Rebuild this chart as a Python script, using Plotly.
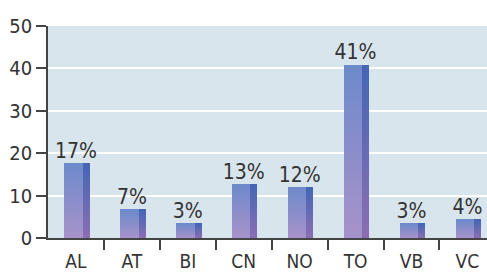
import plotly.graph_objects as go

categories = ["AL", "AT", "BI", "CN", "NO", "TO", "VB", "VC"]
values = [17.6, 6.7, 3.5, 12.7, 12.0, 40.9, 3.5, 4.4]
labels = ["17%", "7%", "3%", "13%", "12%", "41%", "3%", "4%"]
y_ticks = [0, 10, 20, 30, 40, 50]

FONT = "DejaVu Sans Condensed, Liberation Sans Narrow, sans-serif"
N = 24  # gradient steps per bar


def lerp(c1, c2, t):
    return "rgb(%d,%d,%d)" % tuple(round(a + (b - a) * t) for a, b in zip(c1, c2))


front_top, front_bot = (110, 138, 202), (166, 146, 202)
side_top, side_bot = (70, 102, 180), (138, 110, 180)

xs, bases, ys, cf, cs = [], [], [], [], []
for i, (c, v) in enumerate(zip(categories, values)):
    for k in range(N):
        t = k / (N - 1)  # 0 at bottom, 1 at top
        xs.append(i)
        bases.append(v * k / N)
        ys.append(v / N * 1.02 if k < N - 1 else v / N)
        cf.append(lerp(front_bot, front_top, t))
        cs.append(lerp(side_bot, side_top, t))

fig = go.Figure()
fig.add_trace(go.Bar(x=xs, y=ys, base=bases, width=0.33, offset=-0.21,
                     marker=dict(color=cf, line=dict(width=0)), hoverinfo="skip"))
fig.add_trace(go.Bar(x=xs, y=ys, base=bases, width=0.125, offset=0.12,
                     marker=dict(color=cs, line=dict(width=0)), hoverinfo="skip"))
fig.add_trace(go.Scatter(x=list(range(len(categories))), y=values, mode="text",
                         text=labels, textposition="top center",
                         textfont=dict(family=FONT, size=21, color="#333333"),
                         cliponaxis=False, hoverinfo="skip"))

fig.update_layout(
    width=487, height=273,
    margin=dict(l=48, r=0, t=26, b=35),
    paper_bgcolor="white", plot_bgcolor="#d9e5ed",
    barmode="overlay", bargap=0, showlegend=False,
    font=dict(family=FONT, size=20, color="#333333"),
)
fig.update_xaxes(
    type="linear", range=[-0.5, 7.35], automargin=False,
    tickmode="array", tickvals=list(range(len(categories))), ticktext=categories,
    ticks="", ticklabelstandoff=5, tickfont=dict(size=19),
    showgrid=False, zeroline=False,
    showline=True, linecolor="#444444", linewidth=1.5,
)
# boundary ticks between categories
fig.update_xaxes(minor=dict(tickmode="array", tickvals=[i + 0.5 for i in range(len(categories) - 1)],
                            ticks="outside", ticklen=10, tickcolor="#444444", tickwidth=1.5,
                            showgrid=False))
fig.update_yaxes(
    range=[0, 50], tickmode="array", tickvals=y_ticks, automargin=False,
    ticks="outside", ticklen=10, tickcolor="#444444", tickwidth=1.5,
    showgrid=True, gridcolor="white", gridwidth=2, zeroline=False,
    showline=True, linecolor="#444444", linewidth=1.5,
)

fig.write_html("out.html", config={"displayModeBar": False},
               post_script="document.body.style.margin='0';document.body.style.overflow='hidden';")
